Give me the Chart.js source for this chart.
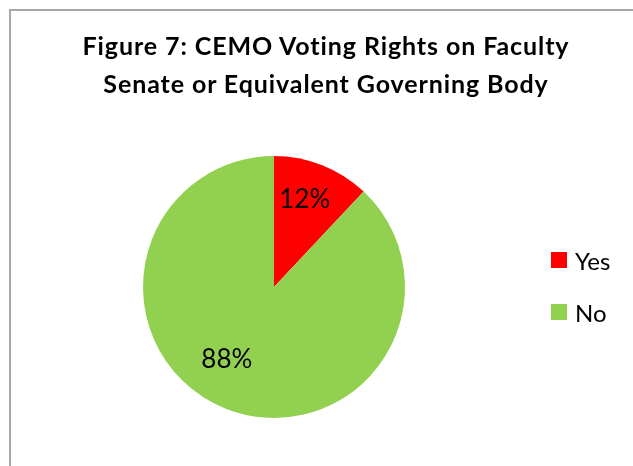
<!DOCTYPE html>
<html lang="en">
<head>
    <meta charset="UTF-8">
    <title>CEMO Voting Rights</title>
    <script src="https://cdn.jsdelivr.net/npm/chart.js"></script>
    <style>
        body {
            margin: 0;
            font-family: Lato, "Open Sans", Arial, sans-serif;
            background: #fff;
        }

        .wrap {
            position: relative;
            width: 633px;
            height: 466px;
            overflow: hidden;
        }

        .frame {
            position: absolute;
            left: 9px;
            top: 9px;
            width: 700px;
            height: 600px;
            border-left: 2px solid #a6a6a6;
            border-top: 2px solid #a6a6a6;
        }

        #myChart {
            position: absolute;
            left: 0;
            top: 0;
        }

        .title {
            position: absolute;
            left: 19px;
            width: 614px;
            top: 26px;
            text-align: center;
            font-weight: bold;
            font-size: 25px;
            letter-spacing: 0.9px;
            line-height: 38px;
            color: #000;
        }

        .legend {
            position: absolute;
            left: 551px;
            top: 243px;
            list-style: none;
            margin: 0;
            padding: 0;
        }

        .legend-item {
            display: flex;
            align-items: center;
            height: 34px;
            margin-bottom: 18px;
            font-size: 24px;
        }

        .legend-color-box {
            width: 16px;
            height: 16px;
            margin-right: 8px;
        }
    </style>
</head>
<body>
<div class="wrap">
    <div class="frame"></div>
    <canvas id="myChart" width="633" height="466"></canvas>
    <div class="title">Figure 7: CEMO Voting Rights on Faculty<br>Senate or Equivalent Governing Body</div>
    <ul class="legend" id="legend"></ul>
</div>

<script>
    const categories = ["Yes", "No"];
    const values = [12, 88];
    const colors = ["#FF0000", "#92D050"];

    // percent labels drawn inside the slices
    const sliceLabels = {
        id: 'sliceLabels',
        afterDatasetsDraw(chart) {
            const ctx = chart.ctx;
            const meta = chart.getDatasetMeta(0);
            const total = values.reduce((a, b) => a + b, 0);
            ctx.save();
            ctx.fillStyle = '#000';
            ctx.font = '26px Lato, "Open Sans", sans-serif';
            ctx.textAlign = 'center';
            ctx.textBaseline = 'middle';
            meta.data.forEach((arc, i) => {
                const p = arc.getProps(['x', 'y', 'startAngle', 'endAngle', 'outerRadius'], true);
                const mid = (p.startAngle + p.endAngle) / 2 + (i === 1 ? 0.2 : -0.04);
                const r = p.outerRadius * (i === 1 ? 0.66 : 0.71);
                const x = p.x + Math.cos(mid) * r;
                const y = p.y + Math.sin(mid) * r;
                ctx.fillText(Math.round(values[i] / total * 100) + '%', x, y);
            });
            ctx.restore();
        }
    };

    new Chart(document.getElementById('myChart'), {
        type: 'pie',
        data: {
            labels: categories,
            datasets: [{
                data: values,
                backgroundColor: colors,
                borderWidth: 0
            }]
        },
        options: {
            responsive: false,
            animation: false,
            devicePixelRatio: 1,
            layout: {
                padding: { left: 143, top: 156, right: 228, bottom: 48 }
            },
            plugins: {
                legend: { display: false },
                title: { display: false },
                tooltip: { enabled: false }
            }
        },
        plugins: [sliceLabels]
    });

    function createLegend() {
        const legendContainer = document.getElementById('legend');
        categories.forEach((label, index) => {
            const listItem = document.createElement('li');
            listItem.classList.add('legend-item');

            const colorBox = document.createElement('div');
            colorBox.classList.add('legend-color-box');
            colorBox.style.backgroundColor = colors[index];

            const legendText = document.createElement('span');
            legendText.textContent = label;

            listItem.appendChild(colorBox);
            listItem.appendChild(legendText);
            legendContainer.appendChild(listItem);
        });
    }

    createLegend();
</script>
</body>
</html>
